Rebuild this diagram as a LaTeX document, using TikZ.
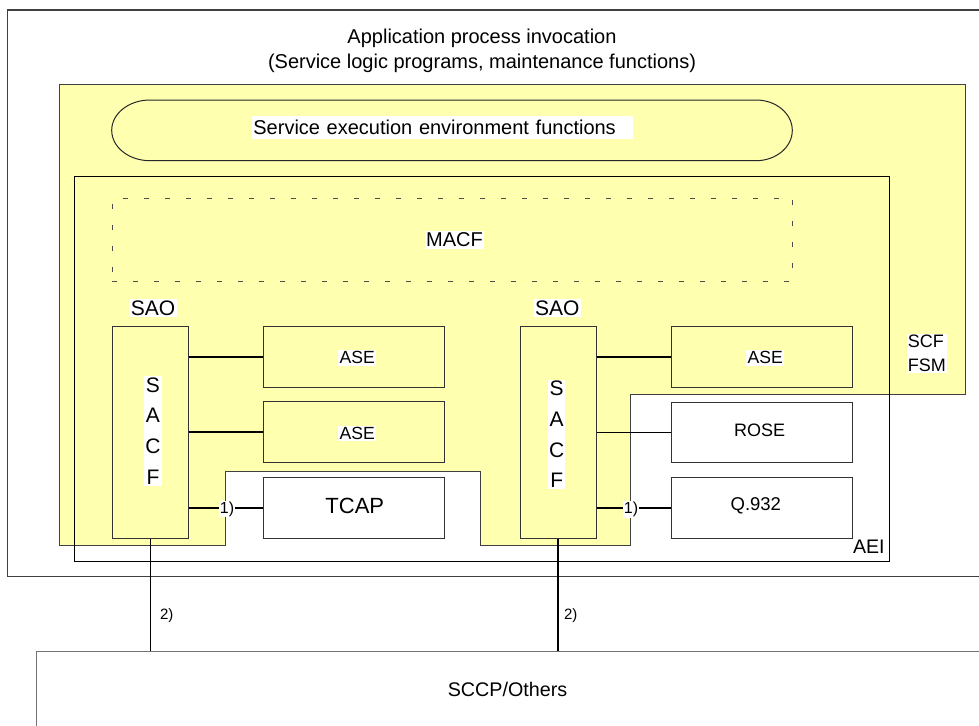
\documentclass[tikz,border=0pt]{standalone}
\usepackage{fontspec}
\setmainfont{Liberation Sans}
\definecolor{scfyellow}{RGB}{255,255,176}
\begin{document}
\begin{tikzpicture}[x=1pt,y=-1pt,
  box/.style={draw=black!80, line width=1pt, inner sep=0pt, anchor=north west},
  wbg/.style={fill=white, inner sep=1.5pt},
  conn/.style={line width=1.5pt, draw=black},
  fs/.style={font=\fontsize{#1}{#1}\selectfont}
]
\useasboundingbox (0,0) rectangle (979,725);
\begin{scope}
\clip (0,0) rectangle (979,725);
% outer application process invocation box
\node[draw=black!75, line width=1.6pt, minimum width=993.3pt, minimum height=566.4pt, anchor=north west, inner sep=0pt] (api) at (6.7,9.3) {};
% SCF yellow area
\draw[fill=scfyellow, draw=black!75, line width=1pt] (59,84.7) -- (965.3,84.7) -- (965.3,394.3) -- (630.7,394.3) -- (630.7,545) -- (480.7,545) -- (480.7,471) -- (225.7,471) -- (225.7,545) -- (59,545) -- cycle;
% AEI box
\node[box, draw=black, minimum width=815.3pt, minimum height=385pt] (aei) at (74,175.7) {};
% service execution environment
\draw[line width=1pt, draw=black!85] (150,100) -- (756,100) .. controls (776.05,100) and (792.3,113.59) .. (792.3,130.35) .. controls (792.3,147.11) and (776.05,160.7) .. (756,160.7) -- (150,160.7) .. controls (128.8,160.7) and (111.7,147.11) .. (111.7,130.35) .. controls (111.7,113.59) and (128.8,100) .. (150,100) -- cycle;
\node[wbg, anchor=west, text width=378pt, align=left, minimum height=23.6pt, fs=20] (see) at (251.7,127.5) {Service execution environment functions};
% MACF
\node[box, draw=black!70, line width=0.9pt, dash pattern=on 5pt off 16pt, minimum width=680pt, minimum height=83.3pt] (macf) at (112,197.7) {};
\node[wbg, fs=20] (macft) at (454.5,240) {MACF};
% SAO labels
\node[wbg, fs=21] (saoL) at (153,308.3) {SAO};
\node[wbg, fs=21] (saoR) at (557.3,308.3) {SAO};
% SACF boxes
\node[box, fill=scfyellow, minimum width=75.7pt, minimum height=211.7pt] (sacfL) at (112,326) {};
\node[box, fill=scfyellow, minimum width=76pt, minimum height=211.7pt] (sacfR) at (519.7,326) {};
\node[fill=white, inner xsep=1pt, inner ysep=1.5pt, align=center, font=\fontsize{21}{30.7}\selectfont] (sacfLt) at (153,431) {S\\A\\C\\F};
\node[fill=white, inner xsep=1pt, inner ysep=1.5pt, align=center, font=\fontsize{21}{30.7}\selectfont] (sacfRt) at (556.7,434.5) {S\\A\\C\\F};
% left ASE boxes
\node[box, fill=scfyellow, minimum width=181pt, minimum height=61pt] (aseL1) at (263,326) {};
\node[box, fill=scfyellow, minimum width=181pt, minimum height=61pt] (aseL2) at (263,401) {};
\node[box, fill=white, minimum width=181pt, minimum height=61pt] (tcap) at (263,477) {};
\node[wbg, fs=17.6] at (357.3,357.8) {ASE};
\node[wbg, fs=17.6] at (357.3,433.3) {ASE};
\node[fs=22, inner sep=0pt] at (354.8,506) {TCAP};
% right boxes
\node[box, fill=scfyellow, minimum width=181.6pt, minimum height=61pt] (aseR) at (670.7,326) {};
\node[box, fill=white, minimum width=181.6pt, minimum height=60.6pt] (rose) at (670.7,401.7) {};
\node[box, fill=white, minimum width=181.6pt, minimum height=60.4pt] (q932) at (670.7,477.3) {};
\node[wbg, fs=17.6] at (765.3,357.8) {ASE};
\node[fs=18, inner sep=0pt] at (759.5,430) {ROSE};
\node[fs=18.5, inner sep=0pt] at (755.8,506) {Q.932};
% connectors
\draw[conn] (sacfL.east |- aseL1.west) -- (aseL1.west);
\draw[conn] (sacfL.east |- aseL2.west) -- (aseL2.west);
\draw[conn] (sacfL.east |- tcap.west) -- (tcap.west);
\draw[conn] (sacfR.east |- aseR.west) -- (aseR.west);
\draw[conn] (sacfR.east |- rose.west) -- (rose.west);
\draw[conn] (sacfR.east |- q932.west) -- (q932.west);
\node[fill=white, inner xsep=0.5pt, inner ysep=1pt, fs=16] (oneL) at (227,509) {1)};
\node[fill=white, inner xsep=0.5pt, inner ysep=1pt, fs=16] (oneR) at (631,509.5) {1)};
% SCF FSM and AEI labels
\node[wbg, align=left, font=\fontsize{18}{24}\selectfont, anchor=north west, inner sep=1pt] (scf) at (906.7,334) {SCF\\FSM};
\node[fs=19.6, inner sep=0pt, anchor=base east] (aeit) at (884.8,553.5) {AEI};
% SCCP/Others
\node[box, draw=black!55, minimum width=963.7pt, minimum height=109pt] (sccp) at (36.3,651) {};
\node[fs=19.7, inner sep=0pt] (sccpt) at (507.5,689) {SCCP/Others};
\draw[conn] (sacfL.south) -- (sacfL.south |- sccp.north);
\draw[conn] (sacfR.south) -- (sacfR.south |- sccp.north);
\node[fs=15, inner sep=0pt] (twoL) at (166.7,616) {2)};
\node[fs=15, inner sep=0pt] (twoR) at (570.7,616) {2)};
% title
\node[align=center, font=\fontsize{20}{25}\selectfont] (title) at (482,50.5) {Application process invocation\\(Service logic programs, maintenance functions)};
\end{scope}
\end{tikzpicture}
\end{document}
